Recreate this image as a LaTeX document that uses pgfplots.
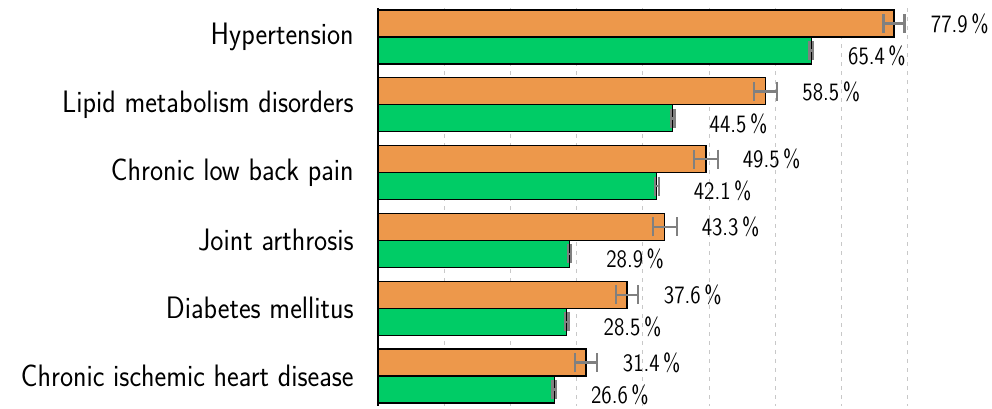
\documentclass[border=0pt]{standalone}
\usepackage{pgfplots}
\pgfplotsset{compat=1.18}
\usepackage{pgfplotstable}

\definecolor{barorange}{RGB}{237,152,75}
\definecolor{bargreen}{RGB}{0,204,102}
\definecolor{errgray}{RGB}{128,128,128}
\definecolor{gridgray}{RGB}{200,200,200}

% prevalence (%) and error per condition, 0 = top row
\pgfplotstableread{
cat val err
0 77.9 1.6
1 58.5 1.75
2 49.5 1.8
3 43.3 1.8
4 37.6 1.65
5 31.4 1.7
}\seriesA
\pgfplotstableread{
cat val err
0 65.4 0.25
1 44.5 0.25
2 42.1 0.3
3 28.9 0.25
4 28.5 0.25
5 26.6 0.25
}\seriesB

\begin{document}
\begin{tikzpicture}
\begin{axis}[
  at={(0,0)}, anchor=south west,
  width=265pt, height=199pt, scale only axis,
  xbar=0pt, bar width=13.5pt,
  xmin=0, xmax=80,
  ymin=-0.428, ymax=5.442, y dir=reverse,
  axis lines=left,
  axis line style={-},
  x axis line style={draw=none},
  y axis line style={black, line width=0.7pt},
  xtick={10,20,...,80}, xticklabels={},
  major tick length=0pt,
  xmajorgrids,
  major grid style={gridgray, line width=0.5pt, dash pattern=on 2pt off 2.5pt},
  ytick={0,...,5},
  yticklabels={Hypertension, Lipid metabolism disorders, Chronic low back pain,
    Joint arthrosis, Diabetes mellitus, Chronic ischemic heart disease},
  yticklabel style={font=\sffamily\fontsize{15.5}{18}\selectfont, anchor=east,
    inner sep=0pt, xshift=-12pt, xscale=0.90},
  clip=false,
  nodes near coords={\pgfmathprintnumber[fixed, fixed zerofill, precision=1,
    assume math mode=true]{\pgfplotspointmeta}\,\%},
  nodes near coords style={anchor=west, inner sep=0pt, xshift=18.2pt,
    font=\sffamily\fontsize{12.5}{15}\selectfont, xscale=0.845, black},
  error bars/error bar style={errgray, line width=1.2pt},
  error bars/error mark options={errgray, line width=1.2pt, mark size=4.75pt, rotate=90},
]
% the first series sits below the second one in each pair
\addplot[fill=bargreen, draw=black, line width=0.6pt,
  every node near coord/.append style={yshift=-2.5pt},
  error bars/.cd, x dir=both, x explicit]
  table[x=val, y=cat, x error=err] {\seriesB};
\addplot[fill=barorange, draw=black, line width=0.6pt,
  error bars/.cd, x dir=both, x explicit]
  table[x=val, y=cat, x error=err] {\seriesA};
\end{axis}
\pgfresetboundingbox
\path[use as bounding box] (-189pt,-1pt) rectangle (307pt,203pt);
\end{tikzpicture}
\end{document}
